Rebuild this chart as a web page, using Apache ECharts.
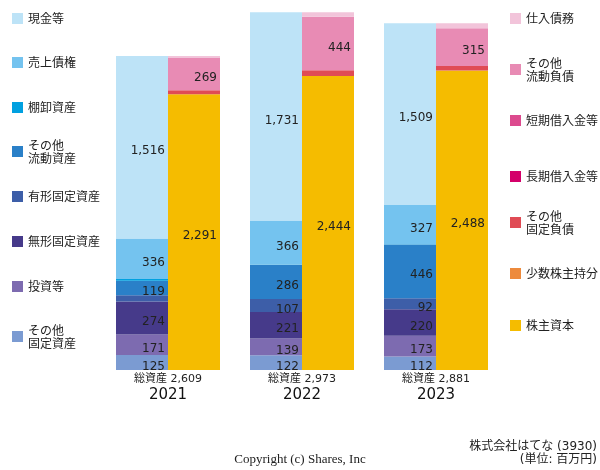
<!DOCTYPE html>
<html>
<head>
<meta charset="utf-8">
<script src="https://cdn.jsdelivr.net/npm/echarts@6/dist/echarts.min.js"></script>
<style>html,body{margin:0;padding:0;background:#fff}#c{width:600px;height:470px}</style>
</head>
<body>
<div id="c"></div>
<script>
var years = ['2021', '2022', '2023'];

// Assets (bottom to top)
var otherFixedAssets = [125, 122, 112];
var investments = [171, 139, 173];
var intangibleAssets = [274, 221, 220];
var tangibleAssets = [52, 107, 92];
var otherCurrentAssets = [119, 286, 446];
var inventories = [16, 1, 2];
var receivables = [336, 366, 327];
var cash = [1516, 1731, 1509];

// Liabilities & equity (bottom to top)
var equity = [2291, 2444, 2488];
var minority = [0, 0, 0];
var otherFixedLiab = [33, 47, 38];
var longTermDebt = [0, 0, 0];
var shortTermDebt = [0, 0, 0];
var otherCurrentLiab = [269, 444, 315];
var payables = [16, 38, 40];

var FONT = '"DejaVu Sans", "Noto Sans CJK JP", sans-serif';
var JFONT = '"Noto Sans CJK JP", "DejaVu Sans", sans-serif';

function fmt(v) { return String(v).replace(/\B(?=(\d{3})+(?!\d))/g, ','); }

var assetDefs = [
  ['その他\n固定資産', otherFixedAssets, '#7b9bd2', 331],
  ['投資等', investments, '#7d6bb0', 281],
  ['無形固定資産', intangibleAssets, '#463a8a', 236],
  ['有形固定資産', tangibleAssets, '#3d5ea8', 191],
  ['その他\n流動資産', otherCurrentAssets, '#2a80c8', 146],
  ['棚卸資産', inventories, '#00a0e0', 102],
  ['売上債権', receivables, '#74c3ef', 57],
  ['現金等', cash, '#bde3f7', 13]
];
var liabDefs = [
  ['株主資本', equity, '#f5bc00', 320],
  ['少数株主持分', minority, '#ed8a3c', 268],
  ['その他\n固定負債', otherFixedLiab, '#e04b55', 217],
  ['長期借入金等', longTermDebt, '#d4006a', 171],
  ['短期借入金等', shortTermDebt, '#dc4a8e', 115],
  ['その他\n流動負債', otherCurrentLiab, '#e88bb4', 64],
  ['仕入債務', payables, '#f2c4da', 13]
];

var totals = years.map(function (y, i) {
  var s = 0; assetDefs.forEach(function (d) { s += d[1][i]; }); return s;
});

var series = [];
var legends = [];
function addSeries(defs, stack, legendLeft) {
  defs.forEach(function (d) {
    series.push({
      name: d[0], type: 'bar', stack: stack, barWidth: 52, barGap: '0%',
      data: d[1], itemStyle: { color: d[2] },
      label: {
        show: true, position: 'insideRight', distance: 3, offset: [0, 4],
        color: '#222', fontSize: 12, fontFamily: FONT,
        formatter: function (p) { return p.value >= 80 ? fmt(p.value) : ''; }
      }
    });
    var twoLine = d[0].indexOf('\n') >= 0;
    legends.push({
      data: [{ name: d[0], icon: 'rect' }],
      left: legendLeft, top: d[3] - (twoLine ? 14 : 1),
      padding: 0, itemWidth: 11, itemHeight: 11, itemGap: 0,
      selectedMode: false,
      textStyle: { fontSize: 12, lineHeight: 13, color: '#222', fontFamily: JFONT,
        padding: twoLine ? [13, 0, 0, 0] : 0 }
    });
  });
}
addSeries(assetDefs, 'assets', 12);
addSeries(liabDefs, 'liab', 510);

var chart = echarts.init(document.getElementById('c'));
chart.setOption({
  animation: false,
  legend: legends,
  grid: { left: 101, width: 402, top: 9, bottom: 100 },
  xAxis: {
    type: 'category', data: years,
    axisLine: { show: false }, axisTick: { show: false },
    axisLabel: {
      margin: 2, interval: 0,
      formatter: function (v, i) { return '{a|総資産 ' + fmt(totals[i]) + '}\n{b|' + v + '}'; },
      rich: {
        a: { fontSize: 11, lineHeight: 14, color: '#222', fontFamily: FONT },
        b: { fontSize: 15, lineHeight: 19, color: '#111', fontFamily: FONT }
      }
    }
  },
  yAxis: { type: 'value', min: 0, max: 3000, show: false, splitLine: { show: false } },
  series: series,
  graphic: [
    { type: 'text', left: 'center', top: 453,
      style: { text: 'Copyright (c) Shares, Inc', font: '13px "Liberation Serif", serif', fill: '#222' } },
    { type: 'text', right: 3, top: 441,
      style: { text: '株式会社はてな (3930)', fontSize: 12, fontFamily: FONT, fill: '#222' } },
    { type: 'text', right: 3, top: 454,
      style: { text: '(単位: 百万円)', fontSize: 12, fontFamily: FONT, fill: '#222' } }
  ]
});
</script>
</body>
</html>
